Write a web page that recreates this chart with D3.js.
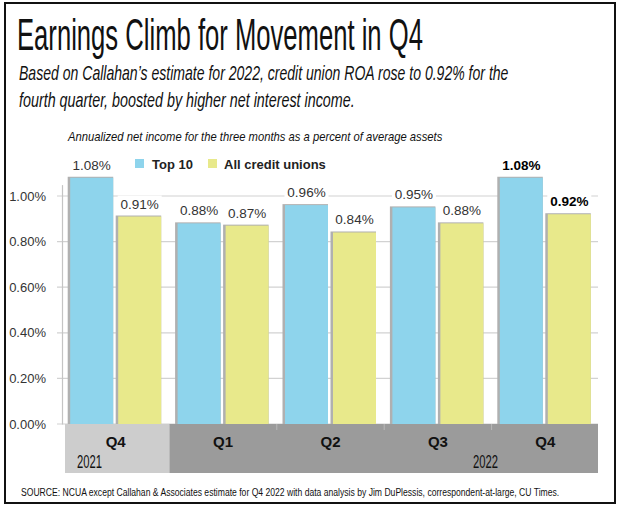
<!DOCTYPE html>
<html><head><meta charset="utf-8">
<script src="https://cdn.jsdelivr.net/npm/d3@7"></script>
<style>html,body{margin:0;padding:0;background:#fff}svg{display:block}</style>
</head><body>
<script>
// ---- data ----
const quarters = ["Q4", "Q1", "Q2", "Q3", "Q4"];
const years = ["2021", "2022", "2022", "2022", "2022"];
const seriesNames = ["Top 10", "All credit unions"];
const top10 = [1.08, 0.88, 0.96, 0.95, 1.08];
const allCU = [0.91, 0.87, 0.84, 0.88, 0.92];
const yTicks = [0, 0.2, 0.4, 0.6, 0.8, 1.0];
const yearGroups = [{year: "2021", from: 0, to: 0}, {year: "2022", from: 1, to: 4}];
const titleText = "Earnings Climb for Movement in Q4";
const subLines = ["Based on Callahan\u2019s estimate for 2022, credit union ROA rose to 0.92% for the",
                  "fourth quarter, boosted by higher net interest income."];
const noteText = "Annualized net income for the three months as a percent of average assets";
const sourceText = "SOURCE: NCUA except Callahan & Associates estimate for Q4 2022 with data analysis by Jim DuPlessis, correspondent-at-large, CU Times.";

const colors = ["#8ed4ec", "#e8e98b"];
const W = 620, H = 510;
const svg = d3.select("body").append("svg").attr("width", W).attr("height", H);

// outer frame
svg.append("rect").attr("x", 5).attr("y", 3).attr("width", 610).attr("height", 500)
  .attr("fill", "#fff").attr("stroke", "#111").attr("stroke-width", 2);

const cond = "'Liberation Sans Narrow','Liberation Sans',Arial,sans-serif";
// text fitted to a target width by horizontal scaling
function fitText(txt, x, yy, width, size, italic) {
  const g = svg.append("g");
  const t = g.append("text").attr("x", 0).attr("y", 0).text(txt)
    .attr("font-family", cond).attr("font-size", size).attr("fill", "#111")
    .attr("font-style", italic ? "italic" : "normal");
  const nat = t.node().getComputedTextLength();
  const sx = width / nat;
  g.attr("transform", `translate(${x},${yy}) scale(${sx},1)`);
  return t;
}
fitText(titleText, 17, 50, 406, 44, false);
const subW = [490, 336];
subLines.forEach((s, i) => fitText(s, 19, 80 + i * 26.5, subW[i], 20, true));
fitText(noteText, 68, 141, 375, 12.5, true);
fitText(sourceText, 21, 496, 539, 11.5, false);

// scales
const idx = d3.range(quarters.length);
const x0 = d3.scaleBand().domain(idx).range([62, 599]).padding(0);
const x1 = d3.scaleBand().domain([0, 1]).range([8.2, 99.2]).paddingInner(5 / 48).paddingOuter(0);
const y = d3.scaleLinear().domain([0, 1.05]).range([424, 184.6]);

// gridlines
svg.append("g").selectAll("line").data(yTicks).join("line")
  .attr("x1", 57).attr("x2", 598).attr("y1", d => y(d)).attr("y2", d => y(d))
  .attr("stroke", "#d2d2d2").attr("stroke-width", 1.2);
// y axis
const yAxis = d3.axisLeft(y).tickValues(yTicks).tickSize(0).tickPadding(16)
  .tickFormat(d => d3.format(".2f")(d) + "%");
const ya = svg.append("g").attr("transform", "translate(62,0)").call(yAxis);
ya.select(".domain").attr("stroke", "#c4c4c4").attr("stroke-width", 1.2);
ya.selectAll("text").attr("font-family", "'Liberation Sans',Arial,sans-serif")
  .attr("font-size", 13).attr("fill", "#333");

// year bands
const bandG = svg.append("g");
yearGroups.forEach((yg, i) => {
  const xa = i === 0 ? x0(yg.from) + 3 : x0(yg.from);
  const xb = x0(yg.to) + x0.bandwidth() - (i === yearGroups.length - 1 ? 1 : 0);
  bandG.append("rect").attr("x", xa).attr("y", 424).attr("width", xb - xa).attr("height", 49)
    .attr("fill", i === 0 ? "#cdcdcd" : "#9b9b9b");
});
bandG.selectAll("line").data(idx.slice(2)).join("line")
  .attr("x1", d => x0(d)).attr("x2", d => x0(d)).attr("y1", 424).attr("y2", 430)
  .attr("stroke", "#b8b8b8").attr("stroke-width", 1);

// quarter labels
svg.append("g").selectAll("text").data(idx).join("text")
  .attr("x", d => x0(d) + x0.bandwidth() / 2).attr("y", 447)
  .attr("text-anchor", "middle").attr("font-family", "'Liberation Sans',Arial,sans-serif")
  .attr("font-weight", "bold").attr("font-size", 15).attr("fill", "#111").text(d => quarters[d]);
// year labels
yearGroups.forEach((yg, i) => {
  const xx = i === 0 ? x0(yg.from) + 15 : x0(yg.to) - 18.5;
  fitText(yg.year, xx, 468, 25, 18, false);
});

// bars
const seriesVals = [top10, allCU];
const barData = [];
idx.forEach(i => seriesVals.forEach((vals, s) => barData.push({i, s, v: vals[i]})));
const bx = d => x0(d.i) + x1(d.s);
const barsG = svg.append("g");
barsG.selectAll("rect.sh").data(barData).join("rect").attr("class", "sh")
  .attr("x", d => bx(d) - 2.5).attr("y", d => y(d.v) - 1)
  .attr("width", x1.bandwidth() + 2.5).attr("height", d => y(0) - y(d.v) + 1)
  .attr("fill", "#b0b0b0");
barsG.selectAll("rect.bar").data(barData).join("rect").attr("class", "bar")
  .attr("x", d => bx(d)).attr("y", d => y(d.v))
  .attr("width", x1.bandwidth()).attr("height", d => y(0) - y(d.v))
  .attr("fill", d => colors[d.s]);

// value labels with white backgrounds
const lastI = idx[idx.length - 1];
const lab = svg.append("g").selectAll("g").data(barData).join("g")
  .attr("transform", d => `translate(${bx(d) + x1.bandwidth() / 2},${y(d.v) - 8})`);
lab.append("rect").attr("x", -22).attr("y", -13).attr("width", 44).attr("height", 17).attr("fill", "#fff");
lab.append("text").attr("text-anchor", "middle")
  .attr("font-family", "'Liberation Sans',Arial,sans-serif").attr("font-size", 13.5)
  .attr("font-weight", d => d.i === lastI ? "bold" : "normal")
  .attr("fill", d => d.i === lastI ? "#000" : "#333")
  .text(d => d3.format(".2f")(d.v) + "%");

// legend
const leg = svg.append("g");
const legX = [135, 208], legTextX = [152, 224];
seriesNames.forEach((n, s) => {
  leg.append("rect").attr("x", legX[s]).attr("y", 159).attr("width", 9).attr("height", 9).attr("fill", colors[s]);
  leg.append("text").attr("x", legTextX[s]).attr("y", 168.5).text(n)
    .attr("font-family", "'Liberation Sans',Arial,sans-serif").attr("font-weight", "bold")
    .attr("font-size", 13).attr("fill", "#222");
});
</script>
</body></html>
